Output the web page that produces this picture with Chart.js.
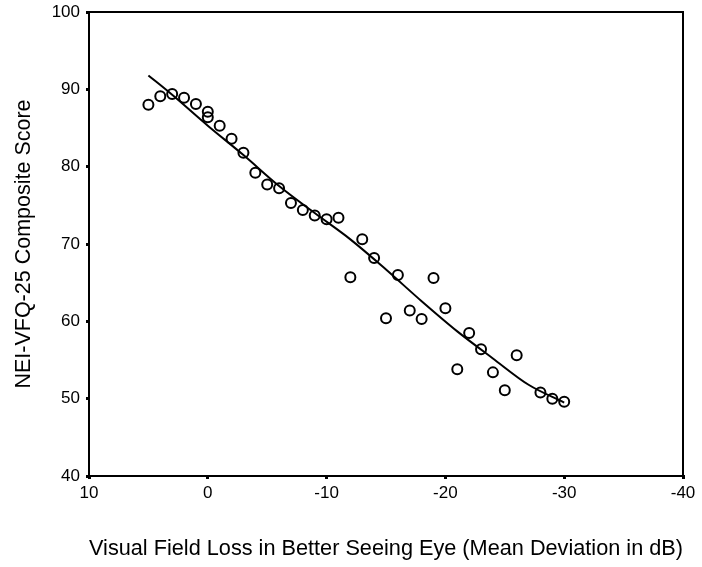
<!DOCTYPE html>
<html>
<head>
<meta charset="utf-8">
<script src="https://cdn.jsdelivr.net/npm/chart.js@4/dist/chart.umd.min.js"></script>
<style>
  body { margin: 0; background: #fff; }
  #wrap { width: 702px; height: 567px; }
</style>
</head>
<body>
<div id="wrap"><canvas id="vfqChart"></canvas></div>
<script>
// observed patients: mean deviation (dB) and composite score
const mdValues = [5, 4, 3, 2, 1, 0, 0, -1, -2, -3, -4, -5, -6, -7, -8, -9, -10, -11,
  -12, -13, -14, -15, -16, -17, -18, -19, -20, -21, -22, -23, -24, -25, -26, -28, -29, -30];
const scoreValues = [88.0, 89.1, 89.4, 88.9, 88.1, 87.1, 86.4, 85.3, 83.6, 81.8, 79.2, 77.7, 77.2, 75.3, 74.4, 73.7, 73.2, 73.4,
  65.7, 70.6, 68.2, 60.4, 66.0, 61.4, 60.3, 65.6, 61.7, 53.8, 58.5, 56.4, 53.4, 51.1, 55.6, 50.8, 50.0, 49.6];

// fitted curve
const fitX = [5, 3, 0, -3, -6, -9, -12, -15, -18, -21, -24, -27, -30];
const fitY = [91.8, 89.3, 85.3, 81.5, 77.5, 74.0, 70.6, 66.7, 62.6, 58.7, 55.2, 51.8, 49.5];

const xTicks = [10, 0, -10, -20, -30, -40];
const yTicks = [40, 50, 60, 70, 80, 90, 100];

const points = mdValues.map((x, i) => ({ x: x, y: scoreValues[i] }));
const curve = fitX.map((x, i) => ({ x: x, y: fitY[i] }));

const boxPlugin = {
  id: 'box',
  afterDraw(chart) {
    const a = chart.chartArea;
    const ctx = chart.ctx;
    ctx.save();
    ctx.strokeStyle = '#000';
    ctx.lineWidth = 2;
    ctx.strokeRect(a.left, a.top, a.right - a.left, a.bottom - a.top);
    ctx.restore();
  }
};

const tickFont = { family: 'Liberation Sans, Arial, sans-serif', size: 17 };

new Chart(document.getElementById('vfqChart'), {
  type: 'scatter',
  data: {
    datasets: [
      {
        label: 'Fit',
        type: 'line',
        data: curve,
        borderColor: '#000',
        borderWidth: 2,
        pointRadius: 0,
        fill: false,
        tension: 0.4,
        cubicInterpolationMode: 'monotone'
      },
      {
        label: 'Patients',
        data: points,
        pointStyle: 'circle',
        pointRadius: 5,
        borderColor: '#000',
        borderWidth: 2,
        backgroundColor: 'rgba(255,255,255,0)'
      }
    ]
  },
  options: {
    responsive: true,
    maintainAspectRatio: false,
    animation: false,
    layout: { padding: { top: 12, right: 19, left: 0, bottom: 0 } },
    plugins: {
      legend: { display: false },
      tooltip: { enabled: false }
    },
    scales: {
      x: {
        type: 'linear',
        reverse: true,
        min: -40,
        max: 10,
        afterBuildTicks: scale => { scale.ticks = xTicks.map(v => ({ value: v })); },
        afterFit: scale => { scale.height = 91; scale.paddingLeft = 0; scale.paddingRight = 0; },
        border: { display: true, color: '#000', width: 2 },
        grid: { drawOnChartArea: false, drawTicks: true, tickLength: 3, lineWidth: 3, color: '#000' },
        ticks: { color: '#000', font: tickFont, padding: 4 },
        title: {
          display: true,
          text: 'Visual Field Loss in Better Seeing Eye (Mean Deviation in dB)',
          color: '#000',
          font: { family: 'Liberation Sans, Arial, sans-serif', size: 22 },
          padding: { top: 0, bottom: 5 }
        }
      },
      y: {
        type: 'linear',
        min: 40,
        max: 100,
        afterBuildTicks: scale => { scale.ticks = yTicks.map(v => ({ value: v })); },
        afterFit: scale => { scale.width = 89; scale.paddingTop = 0; scale.paddingBottom = 0; },
        border: { display: true, color: '#000', width: 2 },
        grid: { drawOnChartArea: false, drawTicks: true, tickLength: 3, lineWidth: 3, color: '#000' },
        ticks: { color: '#000', font: tickFont, padding: 6 },
        title: {
          display: true,
          text: 'NEI-VFQ-25 Composite Score',
          color: '#000',
          font: { family: 'Liberation Sans, Arial, sans-serif', size: 21.5 },
          padding: { top: 11, bottom: 0 }
        }
      }
    }
  },
  plugins: [boxPlugin]
});
</script>
</body>
</html>
